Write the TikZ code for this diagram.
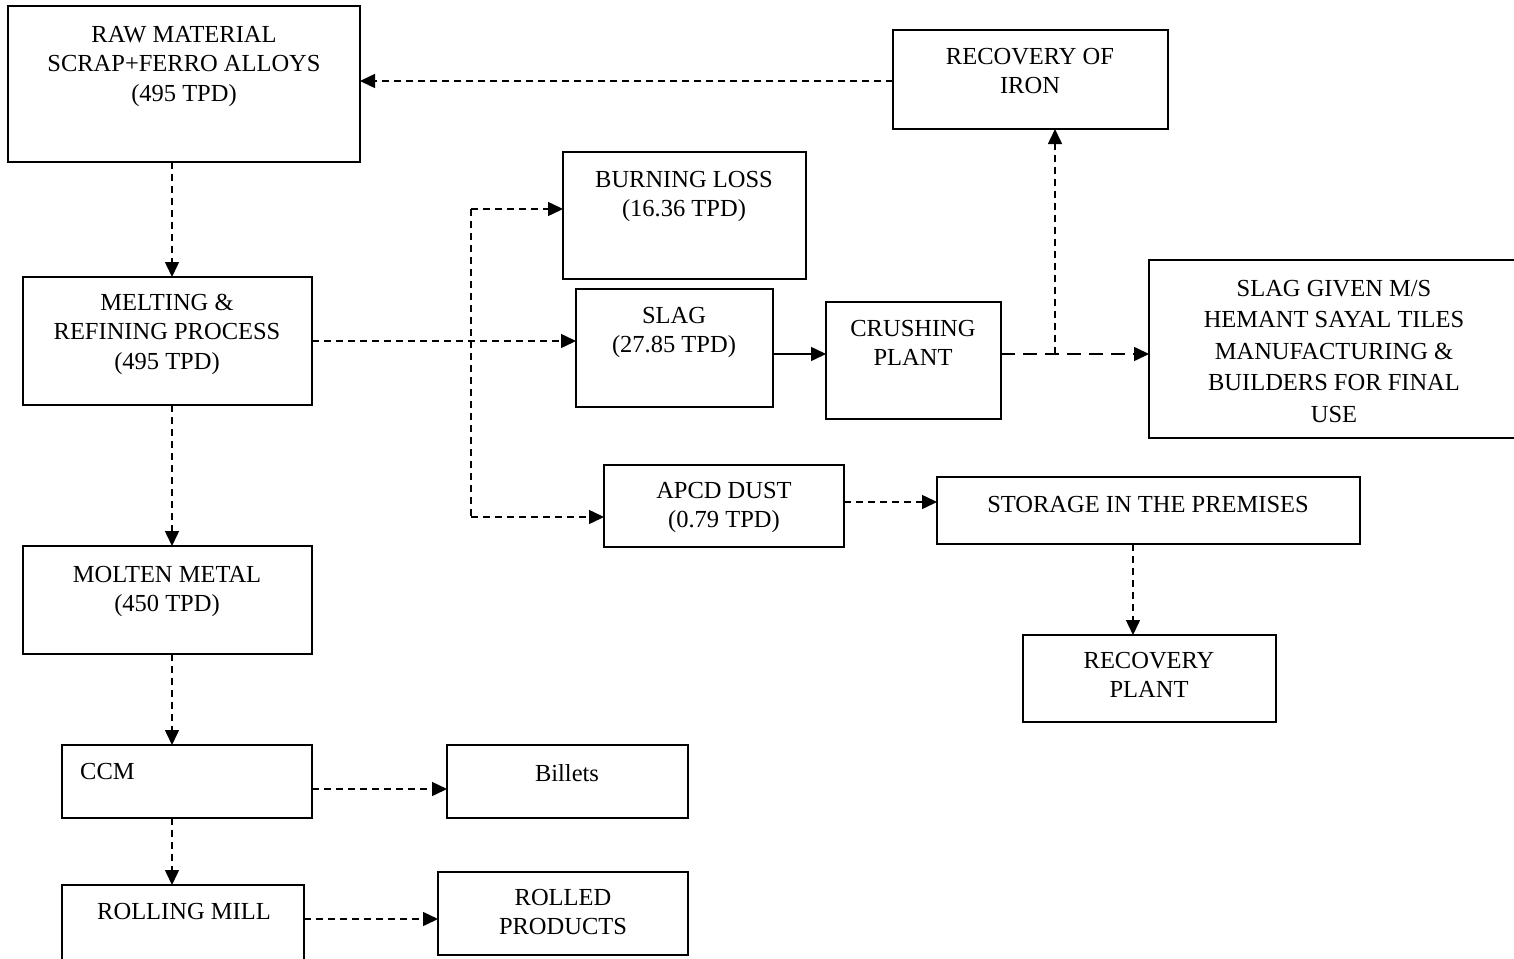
\documentclass[tikz,border=0pt]{standalone}
\usepackage{fontspec}
\setmainfont{Liberation Serif}
\usetikzlibrary{arrows.meta}
\begin{document}
\begin{tikzpicture}[x=1pt,y=-1pt,
  box/.style={draw, line width=1.6pt, inner sep=0pt, outer sep=0pt, rectangle},
  lbl/.style={anchor=north, inner sep=0pt, align=center, font=\fontsize{24.5}{29.5}\selectfont},
  arr/.style={line width=1.5pt, dash pattern=on 7pt off 5pt, -{Triangle[length=15pt,width=14pt]}},
  arrl/.style={line width=1.5pt, dash pattern=on 14pt off 8pt, -{Triangle[length=15pt,width=14pt]}},
  arrs/.style={line width=1.5pt, -{Triangle[length=15pt,width=14pt]}},
  dl/.style={line width=1.5pt, dash pattern=on 7pt off 5pt}]
\useasboundingbox[fill=white] (0,0) rectangle (1514,958);

% boxes
\node[box, minimum width=352pt, minimum height=156pt] (raw) at (184,84) {};
\node[box, minimum width=275pt, minimum height=99pt] (iron) at (1030.5,79.5) {};
\node[box, minimum width=243pt, minimum height=127pt] (burn) at (684.5,215.5) {};
\node[box, minimum width=289pt, minimum height=128pt] (melt) at (167.5,341) {};
\node[box, minimum width=197pt, minimum height=118pt] (slag) at (674.5,348) {};
\node[box, minimum width=175pt, minimum height=117pt] (crush) at (913.5,360.5) {};
\node[box, minimum width=371pt, minimum height=178pt] (given) at (1334.5,349) {};
\node[box, minimum width=240pt, minimum height=82pt] (apcd) at (724,506) {};
\node[box, minimum width=423pt, minimum height=67pt] (store) at (1148.5,510.5) {};
\node[box, minimum width=289pt, minimum height=108pt] (molten) at (167.5,600) {};
\node[box, minimum width=253pt, minimum height=87pt] (rplant) at (1149.5,678.5) {};
\node[box, minimum width=250pt, minimum height=73pt] (ccm) at (187,781.5) {};
\node[box, minimum width=241pt, minimum height=73pt] (billets) at (567.5,781.5) {};
\node[box, minimum width=242pt, minimum height=80pt] (rmill) at (183,925) {};
\node[box, minimum width=250pt, minimum height=83pt] (rolled) at (563,913.5) {};

% labels (north = first baseline - 18)
\node[lbl] (rawt) at (184,24) {\rule{0pt}{18pt}RAW MATERIAL\\SCRAP+FERRO ALLOYS\\(495 TPD)};
\node[lbl] (iront) at (1030,46) {\rule{0pt}{18pt}RECOVERY OF\\IRON};
\node[lbl] (burnt) at (684,169) {\rule{0pt}{18pt}BURNING LOSS\\(16.36 TPD)};
\node[lbl] (meltt) at (167,292) {\rule{0pt}{18pt}MELTING \&\\REFINING PROCESS\\(495 TPD)};
\node[lbl] (slagt) at (674,305) {\rule{0pt}{18pt}SLAG\\(27.85 TPD)};
\node[lbl] (crusht) at (913,318) {\rule{0pt}{18pt}CRUSHING\\PLANT};
\node[lbl, font=\fontsize{24.5}{31.5}\selectfont] (givent) at (1334,278) {\rule{0pt}{18pt}SLAG GIVEN M/S\\HEMANT SAYAL TILES\\MANUFACTURING \&\\BUILDERS FOR FINAL\\USE};
\node[lbl] (apcdt) at (724,480) {\rule{0pt}{18pt}APCD DUST\\(0.79 TPD)};
\node[lbl] (storet) at (1148,494) {\rule{0pt}{18pt}STORAGE IN THE PREMISES};
\node[lbl] (moltent) at (167,564) {\rule{0pt}{18pt}MOLTEN METAL\\(450 TPD)};
\node[lbl] (rplantt) at (1149,650) {\rule{0pt}{18pt}RECOVERY\\PLANT};
\node[lbl, anchor=north west] (ccmt) at (80,761) {\rule{0pt}{18pt}CCM};
\node[lbl] (billetst) at (567,763) {\rule{0pt}{18pt}Billets};
\node[lbl] (rmillt) at (184,901) {\rule{0pt}{18pt}ROLLING MILL};
\node[lbl, font=\fontsize{24.5}{29}\selectfont] (rolledt) at (563,887) {\rule{0pt}{18pt}ROLLED\\PRODUCTS};

% helper coordinates
\coordinate (xa) at (172,0);
\coordinate (bx) at (471,0);
\coordinate (by) at (0,209);
\coordinate (ay) at (0,517);
\coordinate (my) at (0,341);
\coordinate (sy) at (0,354);
\coordinate (jx) at (1055,0);
\coordinate (iy) at (0,81);
\coordinate (dy) at (0,502);
\coordinate (sx) at (1133,0);
\coordinate (cy) at (0,789);
\coordinate (ry) at (0,919);

% connectors
\draw[arr] (raw.south -| xa) -- (melt.north -| xa);
\draw[arr] (iy -| iron.west) -- (iy -| raw.east);
\draw[arr] (my -| melt.east) -- (my -| slag.west);
\draw[dl] (by -| bx) -- (ay -| bx);
\draw[arr] (by -| bx) -- (by -| burn.west);
\draw[arr] (ay -| bx) -- (ay -| apcd.west);
\draw[arrs] (sy -| slag.east) -- (sy -| crush.west);
\draw[arrl] (sy -| crush.east) -- (sy -| given.west);
\draw[arr] (sy -| jx) -- (iron.south -| jx);
\draw[arr] (dy -| apcd.east) -- (dy -| store.west);
\draw[arr] (store.south -| sx) -- (rplant.north -| sx);
\draw[arr] (melt.south -| xa) -- (molten.north -| xa);
\draw[arr] (molten.south -| xa) -- (ccm.north -| xa);
\draw[arr] (cy -| ccm.east) -- (cy -| billets.west);
\draw[arr] (ccm.south -| xa) -- (rmill.north -| xa);
\draw[arr] (ry -| rmill.east) -- (ry -| rolled.west);
\end{tikzpicture}
\end{document}
